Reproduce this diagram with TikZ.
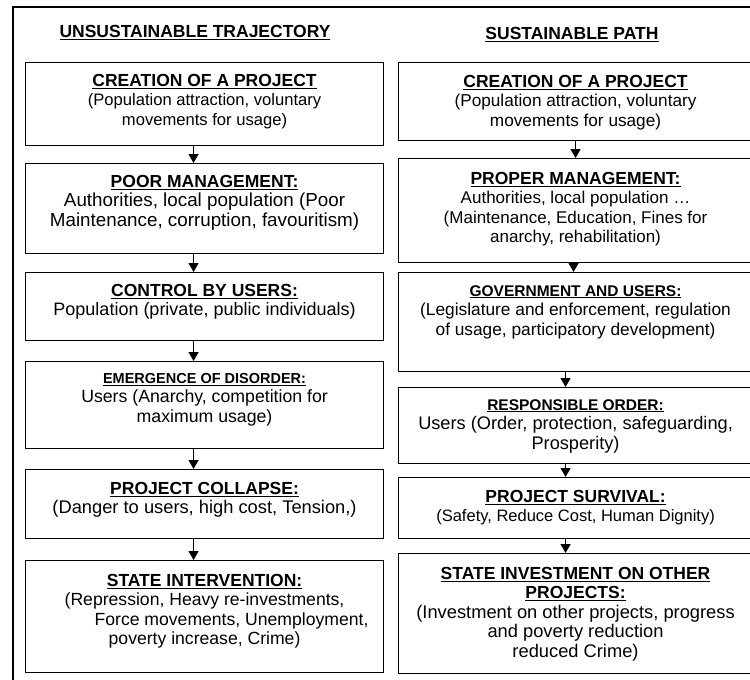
\documentclass[tikz,border=0pt]{standalone}
\usepackage{fontspec}
\setmainfont{Liberation Sans}
\usetikzlibrary{arrows.meta}
\newcommand{\fs}[1]{\fontsize{#1}{19.5}\selectfont}
\newcommand{\ttl}[1]{{\fs{17.5}\bfseries\underline{#1}}}
\newcommand{\sttl}[1]{{\fs{15.5}\bfseries\underline{#1}}}

\begin{document}
\begin{tikzpicture}[x=1pt,y=-1pt,
    stage/.style={draw,line width=1.1pt,anchor=north west,inner sep=0pt},
    txt/.style={anchor=north,align=center,inner sep=0pt,font=\fs{17.5}},
    flow/.style={line width=1.3pt,-{Triangle[length=9pt,width=10pt]}}]
	\useasboundingbox (0,0) rectangle (750,680);
	\clip (0,0) rectangle (750,680);
	\fill[white] (0,0) rectangle (750,680);
	\draw[line width=1.3pt] (13,7) rectangle (770,700);
	% headings
	\node[txt] (hl) at (195,25) {\ttl{UNSUSTAINABLE TRAJECTORY}};
	\node[txt] (hr) at (572,27) {\ttl{SUSTAINABLE PATH}};
	% left column
	\node[stage,minimum width=358,minimum height=83] (l1) at (25,62) {};
	\node[stage,minimum width=358,minimum height=90] (l2) at (25,163) {};
	\node[stage,minimum width=358,minimum height=68] (l3) at (25,272) {};
	\node[stage,minimum width=358,minimum height=87] (l4) at (25,361) {};
	\node[stage,minimum width=358,minimum height=69] (l5) at (25,469) {};
	\node[stage,minimum width=358,minimum height=112] (l6) at (25,560) {};
	\node[txt,font=\fs{16.6}] (l1t) at ([yshift=-12pt]l1.north) {\ttl{CREATION OF A PROJECT}\\(Population attraction, voluntary\\movements for usage)};
	\node[txt,font=\fs{18.8}] (l2t) at ([yshift=-12pt]l2.north) {\ttl{POOR MANAGEMENT:}\\Authorities, local population (Poor\\Maintenance, corruption, favouritism)};
	\node[txt,font=\fs{18}] (l3t) at ([yshift=-12pt]l3.north) {\ttl{CONTROL BY USERS:}\\Population (private, public individuals)};
	\node[txt,font=\fs{17.7}] (l4t) at ([yshift=-12pt]l4.north) {{\fs{14.5}\bfseries\underline{EMERGENCE OF DISORDER:}}\\Users (Anarchy, competition for\\maximum usage)};
	\node[txt,font=\fs{18.3}] (l5t) at ([yshift=-13pt]l5.north) {\ttl{PROJECT COLLAPSE:}\\(Danger to users, high cost, Tension,)};
	\node[txt,font=\fs{17.6}] (l6t) at ([yshift=-14pt]l6.north) {\ttl{STATE INTERVENTION:}\\(Repression, Heavy re-investments,\\\hspace*{54pt}Force movements, Unemployment,\\poverty increase, Crime)};
	% right column
	\node[stage,minimum width=354,minimum height=78] (r1) at (398,62) {};
	\node[stage,minimum width=354,minimum height=104] (r2) at (398,158) {};
	\node[stage,minimum width=354,minimum height=99] (r3) at (398,272) {};
	\node[stage,minimum width=354,minimum height=76] (r4) at (398,387) {};
	\node[stage,minimum width=354,minimum height=61] (r5) at (398,477) {};
	\node[stage,minimum width=354,minimum height=120] (r6) at (398,553) {};
	\node[txt,font=\fs{17.2}] (r1t) at ([yshift=-13pt]r1.north) {\ttl{CREATION OF A PROJECT}\\(Population attraction, voluntary\\movements for usage)};
	\node[txt,font=\fs{17}] (r2t) at ([yshift=-14pt]r2.north) {\ttl{PROPER MANAGEMENT:}\\Authorities, local population …\\(Maintenance, Education, Fines for\\anarchy, rehabilitation)};
	\node[txt,font=\fs{17.3}] (r3t) at ([yshift=-13pt]r3.north) {\sttl{GOVERNMENT AND USERS:}\\(Legislature and enforcement, regulation\\of usage, participatory development)};
	\node[txt,font=\fs{18.2}] (r4t) at ([yshift=-12pt]r4.north) {\sttl{RESPONSIBLE ORDER:}\\Users (Order, protection, safeguarding,\\Prosperity)};
	\node[txt,font=\fs{16.5}] (r5t) at ([yshift=-13pt]r5.north) {\ttl{PROJECT SURVIVAL:}\\(Safety, Reduce Cost, Human Dignity)};
	\node[txt,font=\fs{18.3}] (r6t) at ([yshift=-14pt]r6.north) {\ttl{STATE INVESTMENT ON OTHER}\\\ttl{PROJECTS:}\\(Investment on other projects, progress\\and poverty reduction\\reduced Crime)};
	% arrows
	\foreach \a/\b in {l1/l2,l2/l3,l3/l4,l4/l5,l5/l6}
		\draw[flow] ([xshift=-11pt]\a.south) -- ([xshift=-11pt]\b.north);
	\foreach \a/\b/\s in {r1/r2/0,r2/r3/-2,r3/r4/-10,r4/r5/-10,r5/r6/-10}
		\draw[flow] ([xshift=\s pt]\a.south) -- ([xshift=\s pt]\b.north);
\end{tikzpicture}
\end{document}
